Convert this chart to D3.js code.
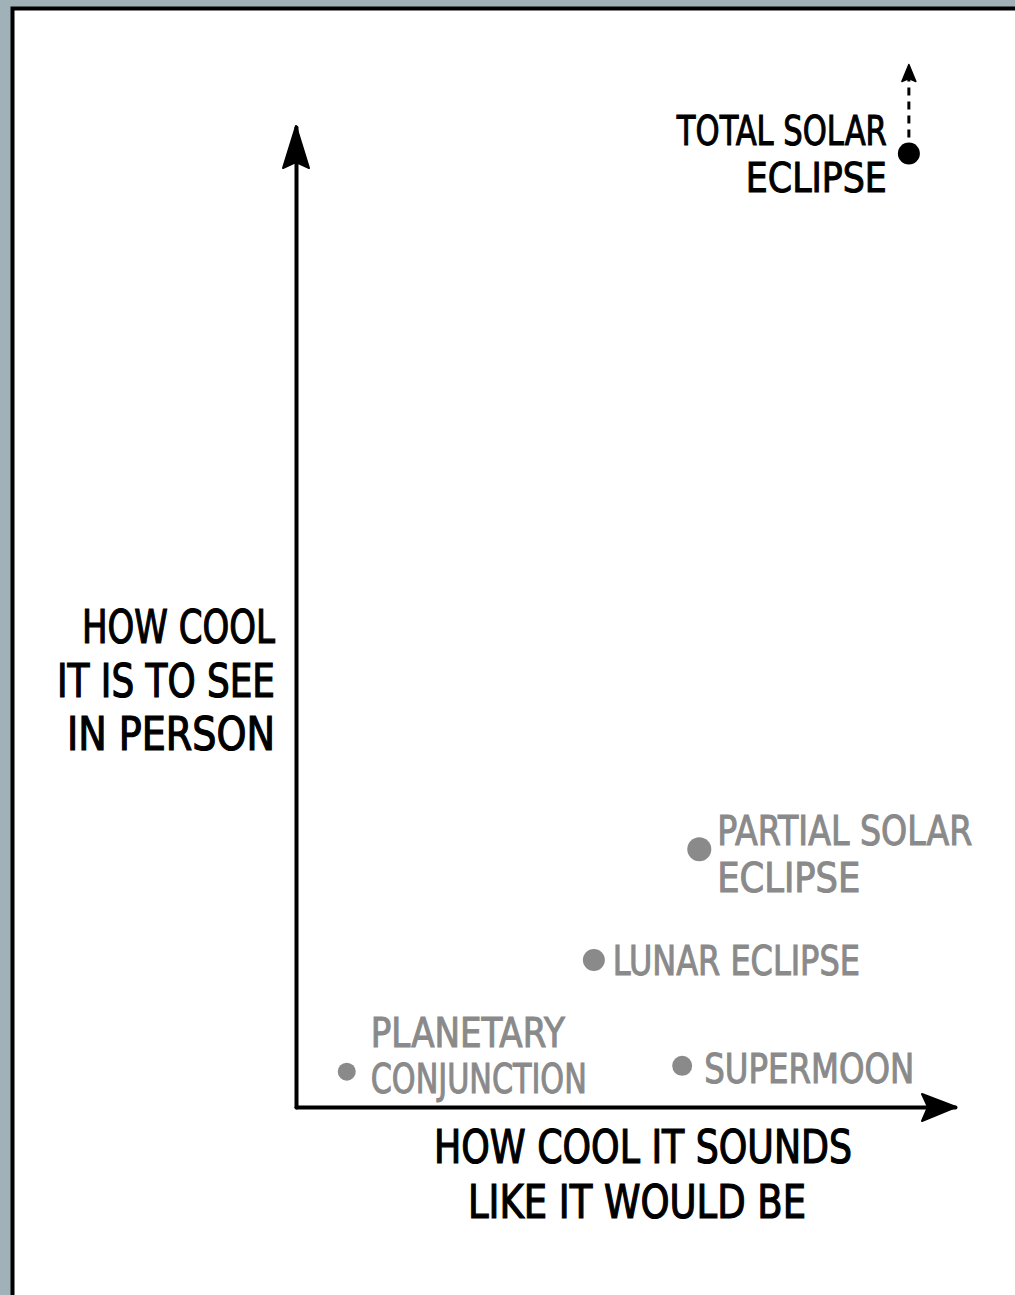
<!DOCTYPE html>
<html>
<head>
<meta charset="utf-8">
<script src="https://cdn.jsdelivr.net/npm/d3@7"></script>
<style>
  html, body { margin: 0; padding: 0; background: #a0b2b8; }
  svg { display: block; }
  text { font-family: "Liberation Sans Narrow", "DejaVu Sans Condensed", sans-serif; }
</style>
</head>
<body>
<div id="chart"></div>
<script>
// events and how cool they are (0-10 on each axis)
const events = ["Total solar eclipse", "Partial solar eclipse", "Lunar eclipse", "Planetary conjunction", "Supermoon"];
const soundsCool = [9.3, 6.12, 4.52, 0.77, 5.86];   // x
const seeCool = [9.73, 2.63, 1.5, 0.36, 0.42];      // y
const labelLines = [
  ["TOTAL SOLAR", "ECLIPSE"],
  ["PARTIAL SOLAR", "ECLIPSE"],
  ["LUNAR ECLIPSE"],
  ["PLANETARY", "CONJUNCTION"],
  ["SUPERMOON"]
];
const xTitle = ["HOW COOL IT SOUNDS", "LIKE IT WOULD BE"];
const yTitle = ["HOW COOL", "IT IS TO SEE", "IN PERSON"];

const W = 1015, H = 1295;
const ink = "#000", grey = "#8a8a8a";

const svg = d3.select("#chart").append("svg")
  .attr("width", W).attr("height", H);

// panel
svg.append("rect").attr("width", W).attr("height", H).attr("fill", "#a0b2b8");
svg.append("rect")
  .attr("x", 12.5).attr("y", 8.5)
  .attr("width", W + 20).attr("height", H + 20)
  .attr("fill", "#fff").attr("stroke", "#000").attr("stroke-width", 4);

const x = d3.scaleLinear().domain([0, 10]).range([296, 955]);
const y = d3.scaleLinear().domain([0, 10]).range([1107, 127]);

// axes, no ticks
svg.append("g")
  .attr("transform", `translate(0,${y(0)})`)
  .call(d3.axisBottom(x).tickValues([]).tickSizeOuter(0));
svg.append("g")
  .attr("transform", `translate(${x(0)},0)`)
  .call(d3.axisLeft(y).tickValues([]).tickSizeOuter(0));
svg.selectAll(".domain")
  .attr("stroke", ink).attr("stroke-width", 4).attr("stroke-linecap", "round");

// arrow heads
svg.append("path")
  .attr("transform", `translate(${x(0)},${y(10)})`)
  .attr("d", "M0,-1 L-13,41 L0,35 L13,41 Z")
  .attr("fill", ink).attr("stroke", ink).attr("stroke-width", 2).attr("stroke-linejoin", "round");
svg.append("path")
  .attr("transform", `translate(${x(10)},${y(0)})`)
  .attr("d", "M1,0 L-33,-13 L-27,0 L-33,14 Z")
  .attr("fill", ink).attr("stroke", ink).attr("stroke-width", 2).attr("stroke-linejoin", "round");

// measured text widths in the picture, used to fit the stand-in font
const widths = [
  [210, 141], [255, 143], [247], [194, 216], [210]
];
const yWidths = [193, 218, 208];
const xWidths = [418, 338];

// axis titles
const yT = svg.append("text")
  .attr("text-anchor", "end")
  .attr("font-size", 46)
  .attr("fill", ink).attr("stroke", ink).attr("stroke-width", 1.2);
yTitle.forEach((t, i) => {
  yT.append("tspan")
    .attr("x", x(0) - 21)
    .attr("y", 643 + i * 53.5)
    .attr("textLength", yWidths[i])
    .attr("lengthAdjust", "spacingAndGlyphs")
    .text(t);
});

const xT = svg.append("text")
  .attr("text-anchor", "middle")
  .attr("font-size", 46)
  .attr("fill", ink).attr("stroke", ink).attr("stroke-width", 1.2);
xTitle.forEach((t, i) => {
  xT.append("tspan")
    .attr("x", i === 0 ? 643 : 637)
    .attr("y", y(0) + 56 + i * 55)
    .attr("textLength", xWidths[i])
    .attr("lengthAdjust", "spacingAndGlyphs")
    .text(t);
});

// label placement relative to each point: [dx, first baseline dy, line step, anchor]
const placement = [
  [-22, -8, 47, "end"],
  [18, -4, 47, "start"],
  [19, 15, 47, "start"],
  [24, -25, 46, "start"],
  [22, 17, 47, "start"]
];
const radius = [11, 12, 11, 9, 10];

const pts = svg.append("g").selectAll("g")
  .data(events.map((e, i) => ({ name: e, x: soundsCool[i], y: seeCool[i], lines: labelLines[i], i })))
  .join("g")
  .attr("transform", d => `translate(${x(d.x)},${y(d.y)})`);

pts.append("circle")
  .attr("r", d => radius[d.i])
  .attr("fill", d => d.i === 0 ? ink : grey);

pts.append("text")
  .attr("font-size", 40)
  .attr("fill", d => d.i === 0 ? ink : grey)
  .attr("stroke", d => d.i === 0 ? ink : grey)
  .attr("stroke-width", 1)
  .attr("text-anchor", d => placement[d.i][3])
  .each(function (d) {
    const p = placement[d.i];
    d3.select(this).selectAll("tspan")
      .data(d.lines)
      .join("tspan")
      .attr("x", p[0])
      .attr("y", (t, j) => p[1] + j * p[2])
      .attr("textLength", (t, j) => widths[d.i][j])
      .attr("lengthAdjust", "spacingAndGlyphs")
      .text(t => t);
  });

// dashed arrow: total solar eclipse goes off the chart
const offChart = pts.filter(d => d.i === 0);
offChart.append("line")
  .attr("x1", 0).attr("y1", -16)
  .attr("x2", 0).attr("y2", -76)
  .attr("stroke", ink).attr("stroke-width", 3)
  .attr("stroke-dasharray", "8,6");
offChart.append("path")
  .attr("d", "M0,-89 L-7,-72 L0,-75 L7,-72 Z")
  .attr("fill", ink).attr("stroke", ink).attr("stroke-width", 1.5).attr("stroke-linejoin", "round");
</script>
</body>
</html>
